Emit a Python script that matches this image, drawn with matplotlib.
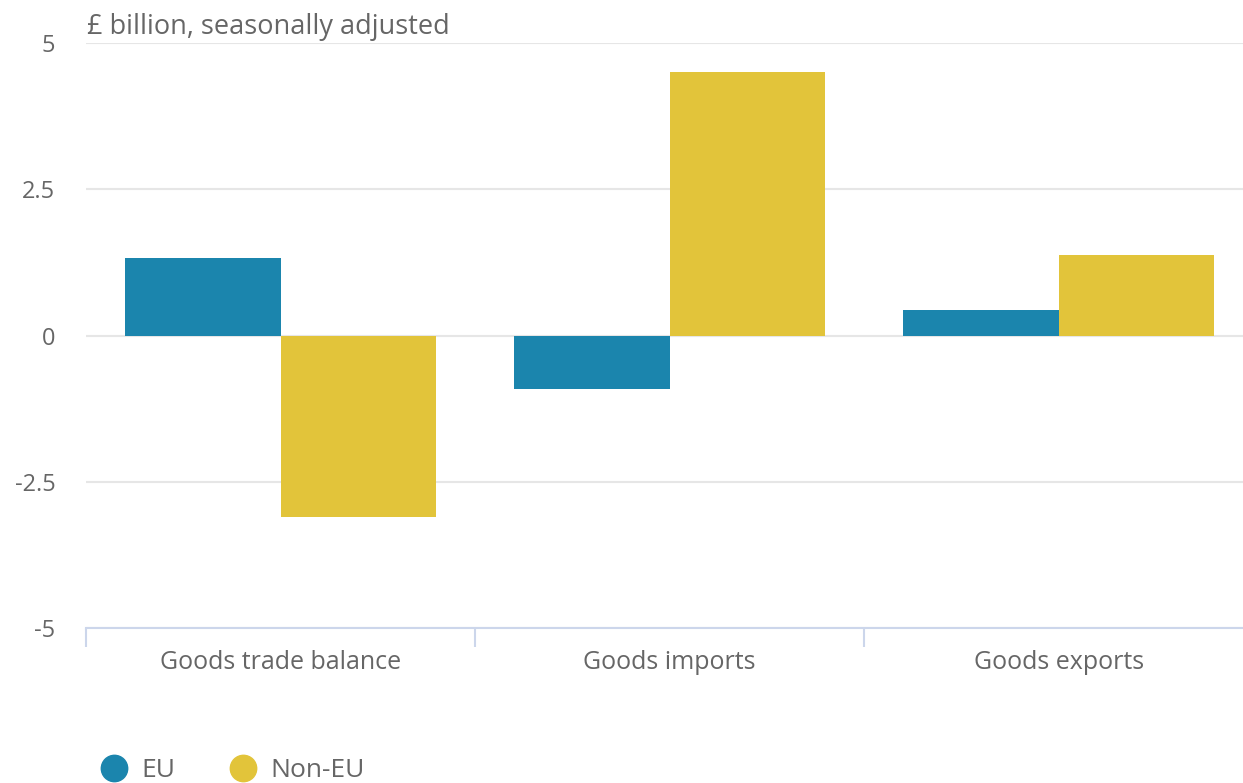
import numpy as np
import matplotlib.pyplot as plt
from matplotlib.lines import Line2D

plt.rcParams['font.family'] = ['Open Sans', 'DejaVu Sans']

categories = ['Goods trade balance', 'Goods imports', 'Goods exports']
eu = [1.32, -0.92, 0.43]
non_eu = [-3.11, 4.50, 1.38]
series_names = ['EU', 'Non-EU']
yticks = [-5, -2.5, 0, 2.5, 5]
ytick_labels = ['-5', '-2.5', '0', '2.5', '5']

eu_color = '#1b85ad'
non_eu_color = '#e2c43a'
text_color = '#666666'

fig = plt.figure(figsize=(12.43, 7.83), dpi=100)
ax = fig.add_axes([0.0692, 0.198, 0.939, 0.747])

x = np.arange(len(categories))
w = 0.4
ax.bar(x - w / 2, eu, width=w, color=eu_color, zorder=3)
ax.bar(x + w / 2, non_eu, width=w, color=non_eu_color, zorder=3)

ax.set_xlim(-0.5, len(categories) - 0.5)
ax.set_ylim(-5, 5)
ax.set_yticks(yticks)
ax.set_yticklabels(ytick_labels, fontsize=17, color=text_color)
ax.yaxis.grid(True, color='#e6e6e6', linewidth=1.5, zorder=0)
ax.tick_params(axis='y', length=0, pad=22)

# category ticks sit at band edges, labels at band centres
edges = np.arange(-0.5, len(categories))
ax.set_xticks(edges)
ax.set_xticklabels([''] * len(edges))
ax.set_xticks(x, minor=True)
ax.set_xticklabels(categories, minor=True, fontsize=18, color=text_color)
ax.tick_params(axis='x', which='major', length=14, color='#ccd6eb', width=1.5)
ax.tick_params(axis='x', which='minor', length=0, pad=16)

for s in ['top', 'right', 'left']:
    ax.spines[s].set_visible(False)
ax.spines['bottom'].set_color('#ccd6eb')
ax.spines['bottom'].set_linewidth(1.5)

fig.text(0.07, 0.965, '£ billion, seasonally adjusted', fontsize=19.5,
         color=text_color, va='center', ha='left')

handles = [Line2D([], [], marker='o', linestyle='', markersize=19, color=c)
           for c in [eu_color, non_eu_color]]
fig.legend(handles, series_names, loc='center left', bbox_to_anchor=(0.060, 0.016),
           frameon=False, ncol=2, fontsize=19, labelcolor=text_color,
           handletextpad=0.45, columnspacing=1.95, handlelength=1.2)

fig.savefig('out.png', dpi=100)
